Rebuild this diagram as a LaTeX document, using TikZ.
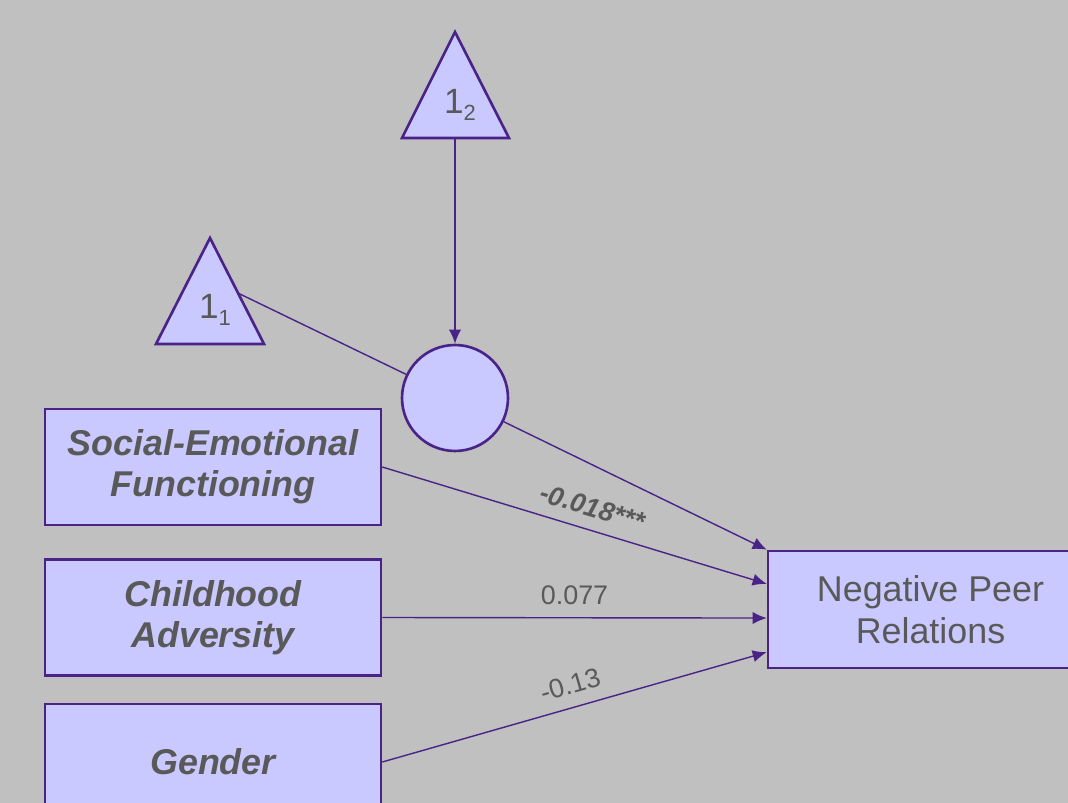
\documentclass[tikz,border=0pt]{standalone}
\usepackage{fontspec}
\setmainfont{Liberation Sans}
\usetikzlibrary{arrows.meta,calc}
\definecolor{bgray}{HTML}{C0C0C0}
\definecolor{lav}{HTML}{C9C9FF}
\definecolor{edge}{HTML}{4A2388}
\definecolor{ink}{HTML}{595959}
\newcommand{\lowsub}[1]{\raisebox{-0.22em}{\fontsize{12.5}{14}\selectfont #1}}
\begin{document}
\begin{tikzpicture}[x=0.02cm,y=-0.02cm,>={Latex[length=8pt,width=7pt]},
    var/.style={rectangle,draw=edge,fill=lav,line width=1.5pt,minimum width=6.72cm,minimum height=2.32cm,align=center,text=ink,font=\fontsize{20.4}{23.6}\selectfont\bfseries\itshape},
    outcome/.style={var,minimum width=6.5cm,minimum height=2.34cm,font=\fontsize{20.4}{23.8}\selectfont},
    latent/.style={circle,draw=edge,fill=lav,line width=1.5pt,minimum size=2.12cm},
    const/.style={draw=edge,fill=lav,line width=1.5pt,line join=miter},
    link/.style={draw=edge,line width=0.8pt},
    coef/.style={text=ink,font=\fontsize{15.3}{18}\selectfont,sloped,above=5pt,inner sep=2pt},]
        \clip (0,0) rectangle (1068,803);
        \fill[bgray] (0,0) rectangle (1068,803);

        % constants
        \draw[const] (455,32) coordinate (t2 apex) -- (509,138) -- (402,138) -- cycle;
        \coordinate (t2) at (455,138);
        \node[text=ink,font=\fontsize{20}{24}\selectfont] (l2) at (460,105) {1\lowsub{2}};
        \draw[const] (210,238) coordinate (t1 apex) -- (264,344) coordinate (t1 right) -- (156,344) -- cycle;
        \coordinate (t1) at ($(t1 apex)!0.52!(t1 right)$);
        \node[text=ink,font=\fontsize{20}{24}\selectfont] (l1) at (215,310) {1\lowsub{1}};

        \node[latent] (c) at (455,398) {};

        \node[var] (sef) at (213,467) {Social-Emotional\\Functioning};
        \node[var] (ca) at (213,617.5) {Childhood\\Adversity};
        \node[var] (gen) at (213,762) {Gender};
        \node[outcome] (npr) at (930.5,609.5) {Negative Peer\\Relations};

        \draw[link,->] (t2) -- (c);
        \draw[link] (t1) -- (c);
        \draw[link,->] (c) -- (npr.north west);
        \draw[link,->] (sef.east) -- node[coef,pos=0.53]{\bfseries\itshape -0.018***} ($(npr.north west)!2/7!(npr.south west)$);
        \draw[link,->] (ca.east) -- node[coef,pos=0.5]{0.077} ($(npr.north west)!4/7!(npr.south west)$);
        \draw[link,->] (gen.east) -- node[coef,pos=0.505]{-0.13} ($(npr.north west)!6/7!(npr.south west)$);
    \end{tikzpicture}
\end{document}
